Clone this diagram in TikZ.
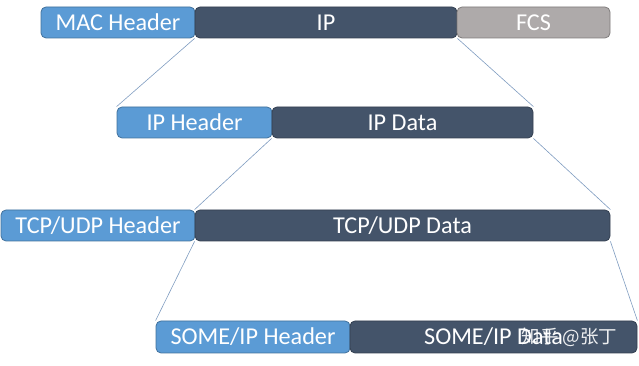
\documentclass[tikz,border=0pt]{standalone}
\usepackage{fontspec}
\setmainfont{Carlito}
\newfontfamily\cjkfont{Noto Sans CJK SC}
\usetikzlibrary{backgrounds}
\definecolor{hdrblue}{HTML}{5B9BD5}
\definecolor{hdredge}{HTML}{41719C}
\definecolor{datanavy}{HTML}{44546A}
\definecolor{dataedge}{HTML}{333F50}
\definecolor{fcsgray}{HTML}{AEAAAA}
\definecolor{fcsedge}{HTML}{7F7C7C}
\definecolor{linkline}{HTML}{7F9CC0}
\tikzset{
  field/.style={rounded corners=5pt, inner sep=0pt, minimum height=31pt,
    text=white, font=\fontsize{24.2}{27}\selectfont, line width=0.8pt},
  hdrbox/.style={field, fill=hdrblue, draw=hdredge},
  databox/.style={field, fill=datanavy, draw=dataedge},
  fcsbox/.style={field, fill=fcsgray, draw=fcsedge},
  link/.style={draw=linkline, line width=0.6pt}
}
\begin{document}
\begin{tikzpicture}[x=1pt,y=1pt]
\useasboundingbox (0,0) rectangle (639,366);
% Ethernet frame
\node[hdrbox, minimum width=154pt] (mac) at (118,343.5) {MAC Header};
\node[databox, minimum width=262pt] (ip) at (326,343.5) {IP};
\node[fcsbox, minimum width=153pt] (fcs) at (533.5,343.5) {FCS};
% IP packet
\node[hdrbox, minimum width=155pt] (iph) at (194.5,243.5) {IP Header};
\node[databox, minimum width=261pt] (ipd) at (402.5,243.5) {IP Data};
% Transport segment
\node[hdrbox, minimum width=194pt] (tcph) at (98,140.5) {TCP/UDP Header};
\node[databox, minimum width=415pt] (tcpd) at (402.5,140.5) {TCP/UDP Data};
% SOME/IP message
\node[hdrbox, minimum width=194pt, minimum height=32pt] (someh) at (253,29) {SOME/IP Header};
\node[databox, minimum width=287pt, minimum height=32pt] (somed) at (493.5,29) {SOME/IP Data};
\node[text=white, opacity=0.9, font=\cjkfont\fontsize{18.5}{21}\selectfont, anchor=east] (wm) at (621,29) {知乎 @张丁};
% Expansion lines between layers
\begin{scope}[on background layer]
\draw[link] (ip.south west) -- (iph.north west);
\draw[link] (ip.south east) -- (ipd.north east);
\draw[link] (ipd.south west) -- (tcpd.north west);
\draw[link] (ipd.south east) -- (tcpd.north east);
\draw[link] (tcpd.south west) -- (someh.north west);
\draw[link] (tcpd.south east) -- (somed.north east);
\end{scope}
\end{tikzpicture}
\end{document}
